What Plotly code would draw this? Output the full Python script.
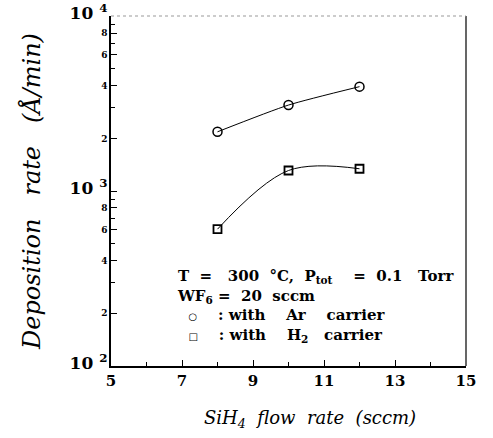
import plotly.graph_objects as go
import numpy as np

# Data
sih4_flow = [8, 10, 12]
rate_ar = [2180, 3100, 3950]
rate_h2 = [605, 1310, 1340]

# Tick labels
x_ticks = [5, 7, 9, 11, 13, 15]
y_major = [100, 1000, 10000]
y_minor_labeled = [2, 4, 6, 8]
y_minor_unlabeled = [3, 5, 7, 9]

SERIF = "DejaVu Serif, Liberation Serif, serif"
NB = "\u00a0"

def sp(n):
    return NB * n

fig = go.Figure()

fig.add_trace(go.Scatter(
    x=sih4_flow, y=rate_ar, mode="lines+markers",
    line=dict(color="black", width=1, shape="spline", smoothing=0.6),
    marker=dict(symbol="circle-open", size=9, color="black", line=dict(width=1.5)),
    showlegend=False))
fig.add_trace(go.Scatter(
    x=sih4_flow, y=rate_h2, mode="lines+markers",
    line=dict(color="black", width=1, shape="spline", smoothing=1.0),
    marker=dict(symbol="square-open", size=8, color="black", line=dict(width=1.8)),
    showlegend=False))

# y tick values/text
yvals, ytext = [], []
for d in y_major:
    yvals.append(d)
    e = int(round(np.log10(d)))
    ytext.append(f'<span style="font-size:17px">10{sp(1)}<sup>{e}</sup></span>')
    if d < y_major[-1]:
        for m in y_minor_labeled:
            yvals.append(d * m)
            ytext.append(f"<b>{m}</b>")
yminor = [d * m for d in y_major[:-1] for m in y_minor_unlabeled]

fig.update_layout(
    width=493, height=438,
    margin=dict(l=111, r=27, t=16, b=72, autoexpand=False),
    paper_bgcolor="white", plot_bgcolor="white",
    font=dict(family=SERIF, color="black"),
    xaxis=dict(
        range=[5, 15], tickvals=x_ticks, ticks="inside", ticklen=6,
        tickwidth=1, tickcolor="black", automargin=False,
        minor=dict(dtick=1, ticks="inside", ticklen=4, tickcolor="black"),
        showline=True, linecolor="black", linewidth=1.5, mirror=False,
        showgrid=False, zeroline=False,
        tickfont=dict(size=15, family=SERIF, weight="bold"),
    ),
    yaxis=dict(
        type="log", range=[1.9995, 4.0005], tickvals=yvals, ticktext=ytext,
        ticks="inside", ticklen=6, tickwidth=1, tickcolor="black",
        minor=dict(tickvals=yminor, ticks="inside", ticklen=4, tickcolor="black"),
        showline=True, linecolor="black", linewidth=1.5, mirror=False,
        showgrid=False, zeroline=False, ticklabeloverflow="allow", automargin=False,
        tickfont=dict(size=9, family=SERIF, weight="bold"),
        title=dict(text="<i>Deposition" + sp(3) + "rate" + sp(3) + "(Å/min)</i>",
                   font=dict(size=24, family=SERIF), standoff=22),
    ),
)

# x-axis title (placed as annotation to match the reference offset)
fig.add_annotation(xref="paper", yref="paper", x=0.56, y=-0.11,
                   xanchor="center", yanchor="top", showarrow=False,
                   text="<i>SiH<sub>4</sub>" + sp(2) + "flow" + sp(2) + "rate" + sp(2) + "(sccm)</i>",
                   font=dict(size=18, family=SERIF, color="black"))

# right frame line and faint dotted top line
fig.add_shape(type="line", xref="paper", yref="paper", x0=1, x1=1, y0=0, y1=1,
              line=dict(color="black", width=1.2))
fig.add_shape(type="line", xref="paper", yref="paper", x0=0, x1=1, y0=1, y1=1,
              line=dict(color="#999999", width=1, dash="dot"))

sym = lambda s: f'<span style="font-size:10px">{s}</span>'
legend_lines = [
    "T" + sp(2) + "=" + sp(3) + "300" + sp(2) + "°C," + sp(2) + "P<sub>tot</sub>" + sp(4) + "=" + sp(2) + "0.1" + sp(3) + "Torr",
    "WF<sub>6</sub>" + sp(1) + "=" + sp(2) + "20" + sp(2) + "sccm",
    sp(2) + sym("○") + sp(4) + ":" + sp(1) + "with" + sp(4) + "Ar" + sp(4) + "carrier",
    sp(2) + sym("□") + sp(4) + ":" + sp(1) + "with" + sp(4) + "H<sub>2</sub>" + sp(3) + "carrier",
]
fig.add_annotation(xref="paper", yref="paper", x=0.18, y=0.172,
                   xanchor="left", yanchor="middle", align="left",
                   text="<br>".join(legend_lines), showarrow=False,
                   font=dict(size=15, family=SERIF, weight="bold", color="black"))

fig.write_html("out.html")
